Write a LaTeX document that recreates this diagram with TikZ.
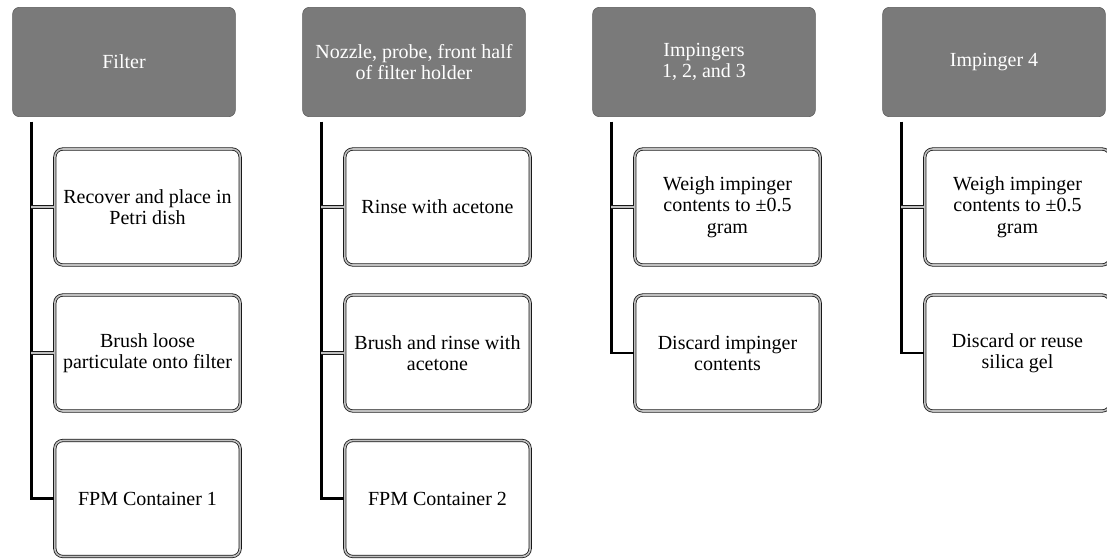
\documentclass[tikz,border=0pt]{standalone}
\usepackage{fontspec}
\setmainfont{Liberation Serif}
\begin{document}
\begin{tikzpicture}[x=0.75pt,y=-0.75pt,
    head/.style={draw=black!65, fill=black!52, rounded corners=5pt, minimum width=167pt, minimum height=82pt,
      text=white, align=center, inner sep=1pt, font=\fontsize{15}{16}\selectfont},
    task/.style={draw=black!90, line width=0.6pt, double=gray!50, double distance=1.2pt, fill=white,
      rounded corners=6pt, minimum width=139pt, minimum height=87pt, align=center, inner sep=1pt,
      font=\fontsize{15}{16}\selectfont},
    trunk/.style={line width=2.2pt, black},
    stub/.style={draw=black!90, line width=0.6pt, double=gray!50, double distance=1.1pt}]
   \useasboundingbox (0,0) rectangle (1107,558);
   % headers
   \node[head] (h1) at (124,62) {Filter};
   \node[head] (h2) at (414,62) {Nozzle, probe, front half\\of filter holder};
   \node[head] (h3) at (704,62) {Impingers\\1, 2, and 3};
   \node[head] (h4) at (994,62) {Impinger 4};
   % steps
   \node[task] (c11) at (147.5,207) {Recover and place in\\Petri dish};
   \node[task] (c12) at (147.5,353) {Brush loose\\particulate onto filter};
   \node[task] (c13) at (147.5,498.5) {FPM Container 1};
   \node[task] (c21) at (437.5,207) {Rinse with acetone};
   \node[task] (c22) at (437.5,353) {Brush and rinse with\\acetone};
   \node[task] (c23) at (437.5,498.5) {FPM Container 2};
   \node[task] (c31) at (727.5,207) {Weigh impinger\\contents to ±0.5\\gram};
   \node[task] (c32) at (727.5,353) {Discard impinger\\contents};
   \node[task] (c41) at (1017.5,207) {Weigh impinger\\contents to ±0.5\\gram};
   \node[task] (c42) at (1017.5,353) {Discard or reuse\\silica gel};
   % connectors
   \coordinate (t1) at ([xshift=14.25pt,yshift=-3.5pt]h1.south west);
   \coordinate (t2) at ([xshift=14.25pt,yshift=-3.5pt]h2.south west);
   \coordinate (t3) at ([xshift=14.25pt,yshift=-3.5pt]h3.south west);
   \coordinate (t4) at ([xshift=14.25pt,yshift=-3.5pt]h4.south west);
   \draw[trunk] (t1) |- (c13.west);
   \draw[trunk] (t2) |- (c23.west);
   \draw[trunk] (t3) |- (c32.west);
   \draw[trunk] (t4) |- (c42.west);
   \foreach \c in {11,12}
    \draw[stub] (t1 |- c\c.west) -- (c\c.west);
   \foreach \c in {21,22}
    \draw[stub] (t2 |- c\c.west) -- (c\c.west);
   \draw[stub] (t3 |- c31.west) -- (c31.west);
   \draw[stub] (t4 |- c41.west) -- (c41.west);
\end{tikzpicture}
\end{document}
